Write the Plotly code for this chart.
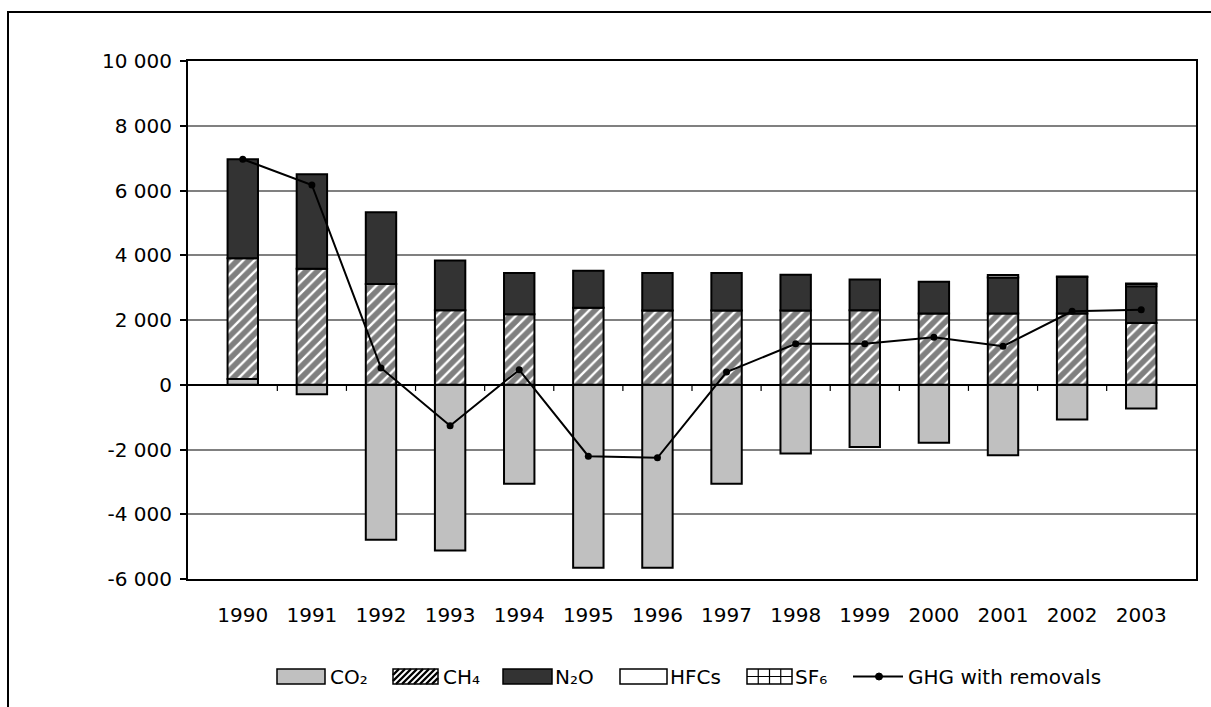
import plotly.graph_objects as go

# Emissions/removals by gas, Gg CO2 equivalent
years = ["1990", "1991", "1992", "1993", "1994", "1995", "1996",
         "1997", "1998", "1999", "2000", "2001", "2002", "2003"]
co2 = [175, -290, -4790, -5120, -3060, -5650, -5650,
       -3060, -2120, -1925, -1790, -2180, -1070, -730]
ch4 = [3735, 3580, 3115, 2300, 2180, 2375, 2290,
       2290, 2290, 2300, 2200, 2200, 2200, 1910]
n2o = [3055, 2920, 2215, 1535, 1275, 1150, 1165,
       1165, 1105, 950, 980, 1110, 1130, 1135]
hfcs = [None, None, None, None, None, None, None,
        None, None, None, None, 80, 15, 70]
sf6 = [None, None, None, None, None, None, None,
       None, None, None, None, None, None, 10]
ghg_with_removals = [6965, 6170, 520, -1265, 460, -2205, -2255,
                     390, 1265, 1265, 1470, 1190, 2270, 2320]

y_ticks = [-6000, -4000, -2000, 0, 2000, 4000, 6000, 8000, 10000]
y_tick_text = ["-6 000", "-4 000", "-2 000", "0", "2 000",
               "4 000", "6 000", "8 000", "10 000"]

legend_names = ["CO₂", "CH₄", "N₂O", "HFCs", "SF₆", "GHG with removals"]

FONT = "DejaVu Sans"
W, H = 1211, 707
PL, PR, PT, PB = 188, 1196, 61, 579   # plot area in pixels


def px(x):
    return (x - PL) / (PR - PL)


def py(y):
    return (PB - y) / (PB - PT)


edge = dict(color="black", width=2)

fig = go.Figure()
fig.add_trace(go.Bar(x=years, y=co2, name=legend_names[0],
                     marker=dict(color="#C0C0C0", line=edge)))
fig.add_trace(go.Bar(x=years, y=ch4, name=legend_names[1],
                     marker=dict(color="white", line=edge,
                                 pattern=dict(shape="/", fgcolor="black",
                                              bgcolor="white", size=8,
                                              solidity=0.7))))
fig.add_trace(go.Bar(x=years, y=n2o, name=legend_names[2],
                     marker=dict(color="#333333", line=edge)))
fig.add_trace(go.Bar(x=years, y=hfcs, name=legend_names[3],
                     marker=dict(color="white", line=edge)))
fig.add_trace(go.Bar(x=years, y=sf6, name=legend_names[4],
                     marker=dict(color="white", line=edge,
                                 pattern=dict(shape="+", fgcolor="black",
                                              bgcolor="white", size=6,
                                              solidity=0.2))))
fig.add_trace(go.Scatter(x=years, y=ghg_with_removals, name=legend_names[5],
                         mode="lines+markers",
                         line=dict(color="black", width=2),
                         marker=dict(color="black", size=7)))

shapes = []

# outer chart border
shapes.append(dict(type="rect", xref="paper", yref="paper",
                   x0=px(8), x1=px(1230), y0=py(12), y1=py(730),
                   line=dict(color="black", width=2), layer="above"))

# category-boundary ticks on the zero line
for i in range(len(years) - 1):
    shapes.append(dict(type="line", xref="x", yref="y",
                       x0=i + 0.5, x1=i + 0.5, y0=0, y1=-190,
                       line=dict(color="black", width=1.2), layer="above"))

# hand-built legend
LY = 676.5          # legend row centre
BH = 7.5            # half box height
annotations = []


def box(x0, x1, fill):
    shapes.append(dict(type="rect", xref="paper", yref="paper",
                       x0=px(x0), x1=px(x1), y0=py(LY + BH), y1=py(LY - BH),
                       fillcolor=fill, line=dict(color="black", width=1.5)))


def seg(xa, ya, xb, yb, w=1.2):
    shapes.append(dict(type="line", xref="paper", yref="paper",
                       x0=px(xa), x1=px(xb), y0=py(ya), y1=py(yb),
                       line=dict(color="black", width=w)))


def label(x, text):
    annotations.append(dict(x=px(x), y=py(LY), xref="paper", yref="paper",
                            text=text, showarrow=False, xanchor="left",
                            yanchor="middle",
                            font=dict(family=FONT, size=20, color="black")))


# CO2
box(277, 325, "#C0C0C0")
label(328, legend_names[0])
# CH4 with diagonal hatching
hx0, hx1 = 393, 438
box(hx0, hx1, "white")
top, bot = LY - BH, LY + BH
span = bot - top
k = hx0 - span
while k < hx1:
    xa, ya = k, bot
    xb, yb = k + span, top
    if xa < hx0:
        ya = bot - (hx0 - xa)
        xa = hx0
    if xb > hx1:
        yb = top + (xb - hx1)
        xb = hx1
    if xb > xa:
        seg(xa, ya, xb, yb, 2.4)
    k += 6
label(441, legend_names[1])
# N2O
box(503, 552, "#333333")
label(553, legend_names[2])
# HFCs
box(620, 667, "white")
label(668, legend_names[3])
# SF6 grid
gx0, gx1 = 747, 792
box(gx0, gx1, "white")
for j in range(1, 4):
    xv = gx0 + j * (gx1 - gx0) / 4
    seg(xv, LY - BH, xv, LY + BH)
seg(gx0, LY, gx1, LY)
label(793, legend_names[4])
# GHG line
seg(853, LY, 903, LY, 2)
shapes.append(dict(type="circle", xref="paper", yref="paper",
                   x0=px(875.5), x1=px(882.5), y0=py(LY + 3.5), y1=py(LY - 3.5),
                   fillcolor="black", line=dict(color="black", width=1)))
label(906, legend_names[5])

fig.update_layout(
    width=W, height=H,
    margin=dict(l=PL, r=W - PR, t=PT, b=H - PB),
    paper_bgcolor="white", plot_bgcolor="white",
    barmode="relative", bargap=0.56,
    showlegend=False,
    font=dict(family=FONT, size=20, color="black"),
    shapes=shapes, annotations=annotations,
    xaxis=dict(type="category", showgrid=False, ticks="",
               showline=True, mirror=True, linecolor="black", linewidth=2,
               tickfont=dict(family=FONT, size=20), ticklabelstandoff=17),
    yaxis=dict(range=[-6000, 10000], tickvals=y_ticks, ticktext=y_tick_text,
               showgrid=True, gridcolor="#808080", gridwidth=1.5,
               zeroline=True, zerolinecolor="black", zerolinewidth=1.5,
               showline=True, mirror=True, linecolor="black", linewidth=2,
               ticks="outside", ticklen=6, tickwidth=1.5, tickcolor="black",
               ticklabelstandoff=4,
               tickfont=dict(family=FONT, size=20)),
)

fig.write_html("out.html")
